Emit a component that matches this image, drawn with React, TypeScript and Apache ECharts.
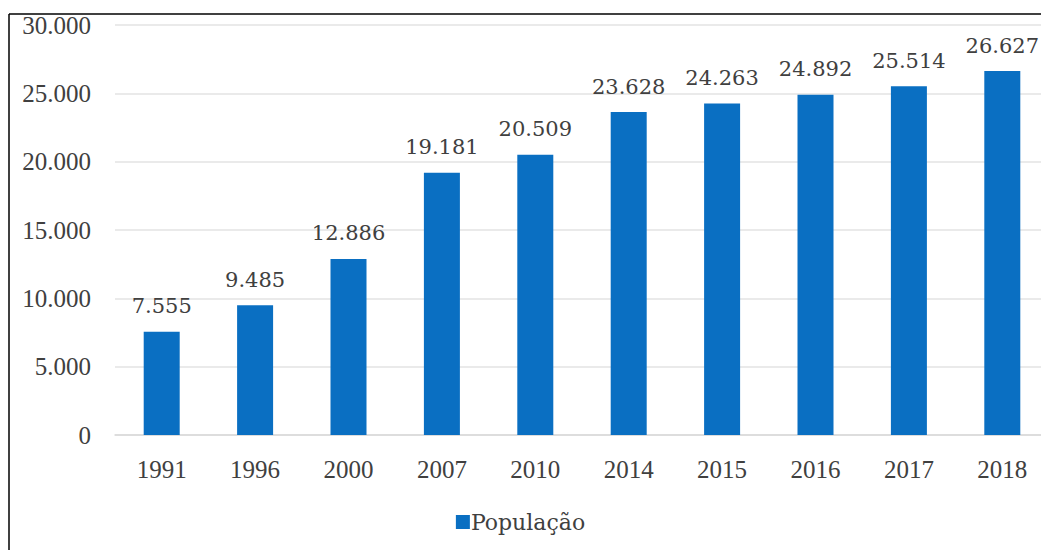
import React, { useEffect, useRef } from "react";
import * as echarts from "echarts";

const categories = ["1991", "1996", "2000", "2007", "2010", "2014", "2015", "2016", "2017", "2018"];
const populacao = [7555, 9485, 12886, 19181, 20509, 23628, 24263, 24892, 25514, 26627];
const seriesName = "População";

const fmt = (v: number) => String(v).replace(/\B(?=(\d{3})+(?!\d))/g, ".");

export default function App() {
  const ref = useRef<HTMLDivElement>(null);
  useEffect(() => {
    if (!ref.current) return;
    const chart = echarts.init(ref.current, undefined, { renderer: "svg" });
    const font = "Liberation Serif";
    const labelFont = "DejaVu Serif";
    chart.setOption({
      animation: false,
      backgroundColor: "#ffffff",
      textStyle: { fontFamily: font },
      grid: { left: 115, width: 934, top: 25, bottom: 115, containLabel: false, outerBoundsMode: "none" },
      legend: {
        data: [seriesName],
        bottom: 12,
        left: "center",
        itemWidth: 14,
        itemHeight: 14,
        itemGap: 4,
        icon: "rect",
        textStyle: {
          fontFamily: labelFont,
          fontSize: 22,
          color: "#404040",
          padding: [0, 0, 0, -4],
        },
      },
      xAxis: {
        type: "category",
        data: categories,
        axisLine: { lineStyle: { color: "#d9d9d9", width: 1.5 } },
        axisTick: { show: false },
        axisLabel: { fontFamily: font, fontSize: 25, color: "#404040", margin: 22 },
      },
      yAxis: {
        type: "value",
        min: 0,
        max: 30000,
        interval: 5000,
        axisLine: { show: false },
        axisTick: { show: false },
        splitLine: { lineStyle: { color: "#e3e3e3", width: 1.5 } },
        axisLabel: {
          fontFamily: font,
          fontSize: 25,
          color: "#404040",
          margin: 24,
          formatter: (v: number) => fmt(v),
        },
      },
      series: [
        {
          name: seriesName,
          type: "bar",
          data: populacao,
          barWidth: 36,
          itemStyle: { color: "#0a6fc2" },
          label: {
            show: true,
            position: "top",
            distance: 15,
            fontFamily: labelFont,
            fontSize: 21,
            color: "#404040",
            formatter: (p: any) => fmt(p.value),
          },
        },
      ],
      graphic: [
        { type: "line", shape: { x1: 9, y1: 14, x2: 1041, y2: 14 }, style: { stroke: "#000", lineWidth: 1.5 }, z: 100 },
        { type: "line", shape: { x1: 9, y1: 14, x2: 9, y2: 550 }, style: { stroke: "#000", lineWidth: 1.5 }, z: 100 },
      ],
    });
    return () => chart.dispose();
  }, []);
  return (
    <div
      ref={ref}
      style={{ position: "fixed", left: 0, top: 0, width: 1041, height: 550, background: "#fff" }}
    />
  );
}
